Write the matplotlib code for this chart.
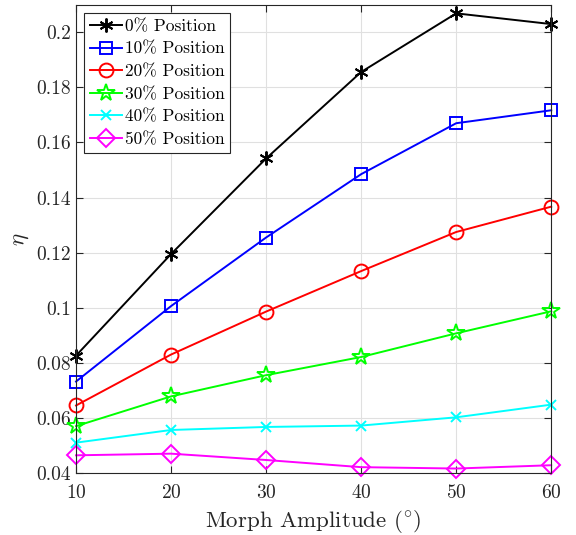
import matplotlib
matplotlib.use("Agg")
import matplotlib.pyplot as plt
from matplotlib.ticker import FuncFormatter

plt.rcParams['font.family'] = 'serif'
plt.rcParams['font.serif'] = ['cmr10']
plt.rcParams['mathtext.fontset'] = 'cm'
plt.rcParams['axes.formatter.use_mathtext'] = True

amplitude = [10, 20, 30, 40, 50, 60]
pos0 = [0.0826, 0.1195, 0.1542, 0.1856, 0.2069, 0.2030]
pos10 = [0.0732, 0.1006, 0.1255, 0.1485, 0.1670, 0.1717]
pos20 = [0.0645, 0.0830, 0.0986, 0.1133, 0.1275, 0.1367]
pos30 = [0.0570, 0.0678, 0.0755, 0.0821, 0.0907, 0.0987]
pos40 = [0.0510, 0.0556, 0.0567, 0.0572, 0.0602, 0.0648]
pos50 = [0.0464, 0.0470, 0.0447, 0.0421, 0.0416, 0.0428]
labels = ['0% Position', '10% Position', '20% Position',
          '30% Position', '40% Position', '50% Position']

series = [pos0, pos10, pos20, pos30, pos40, pos50]
colors = ['black', 'blue', 'red', '#00ff00', 'cyan', 'magenta']
markers = [(6, 2, 0), 's', 'o', '*', 'x', 'D']
sizes = [10, 8, 10, 13, 7, 9]

fig = plt.figure(figsize=(5.76, 5.35), dpi=100)
ax = fig.add_axes([0.132, 0.116, 0.825, 0.875])

for y, c, m, s, lab in zip(series, colors, markers, sizes, labels):
    ax.plot(amplitude, y, color=c, marker=m, ms=s, lw=1.4, mew=1.4,
            mfc='none', label=lab, clip_on=False)

ax.set_xlim(10, 60)
ax.set_ylim(0.04, 0.21)
ax.set_xticks(amplitude)
ax.set_yticks([0.04, 0.06, 0.08, 0.1, 0.12, 0.14, 0.16, 0.18, 0.2])
ax.yaxis.set_major_formatter(FuncFormatter(lambda v, p: '%g' % round(v, 3)))
ax.tick_params(direction='in', top=True, right=True, labelsize=14,
               colors='0.15', length=5)
ax.tick_params(axis='x', pad=8)
for sp in ax.spines.values():
    sp.set_color('0.15')
ax.grid(True, color='0.88', lw=0.8)
ax.set_axisbelow(True)
ax.set_xlabel('Morph Amplitude ($^{\\circ}$)', fontsize=16.5, color='0.15')
ax.set_ylabel('$\\eta$', fontsize=16.5, color='0.15')

leg = ax.legend(loc='upper left', fontsize=12.5, fancybox=False, framealpha=1,
                edgecolor='0.15', handlelength=1.85, handletextpad=0.15,
                borderpad=0.35, labelspacing=0.42, borderaxespad=0.45)
leg.get_frame().set_linewidth(0.8)

fig.savefig('out.png', dpi=100)
